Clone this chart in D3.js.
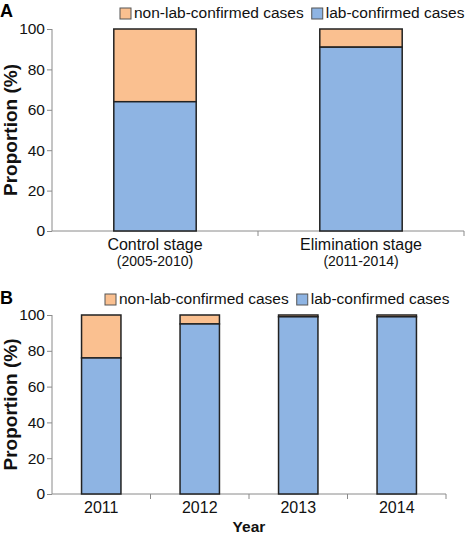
<!DOCTYPE html>
<html><head><meta charset="utf-8">
<script src="https://cdn.jsdelivr.net/npm/d3@7"></script>
<style>body{margin:0;background:#fff}svg{display:block}text{font-family:"Liberation Sans",Arial,sans-serif}</style>
</head><body><svg id="c" width="471" height="535"></svg>
<script>
const stagesA = ["Control stage", "Elimination stage"];
const stageYearsA = ["(2005-2010)", "(2011-2014)"];
const labA = [64, 91];
const nonLabA = [36, 9];
const yearsB = ["2011", "2012", "2013", "2014"];
const labB = [76, 95, 99, 99];
const nonLabB = [24, 5, 1, 1];
const yTicks = [0, 20, 40, 60, 80, 100];
const seriesNames = ["non-lab-confirmed cases", "lab-confirmed cases"];
const colors = {nonLab: "#FAC090", lab: "#8EB4E3"};

const svg = d3.select("#c");
const axisColor = "#8a8a8a";

function panel(opts) {
  const {cats, lab, nonLab, x0, x1, yTop, yBot, letter, letterY, legendY, legendX, legendGap, label2} = opts;
  const g = svg.append("g");
  const x = d3.scaleBand().domain(cats).range([x0, x1]).paddingInner(0.6).paddingOuter(0.3);
  const xb = d3.scaleBand().domain(cats).range([x0, x1]);
  const y = d3.scaleLinear().domain([0, 100]).range([yBot, yTop]);
  const ya = g.append("g").attr("transform", `translate(${x0},0)`)
    .call(d3.axisLeft(y).tickValues(yTicks).tickSize(5).tickPadding(2));
  ya.select(".domain").attr("stroke", axisColor).attr("d", `M-0,${yBot}V${yTop}`);
  ya.selectAll(".tick line").attr("stroke", axisColor);
  ya.selectAll(".tick text").attr("font-size", 15.5).attr("fill", "#111");
  const xa = g.append("g").attr("transform", `translate(0,${yBot})`)
    .call(d3.axisBottom(xb).tickSize(0).tickFormat(""));
  xa.select(".domain").attr("stroke", axisColor).attr("d", `M${x0},0H${x1}`);
  xa.selectAll(".tick").remove();
  const bounds = cats.map(c => xb(c)).concat([x1]).slice(1);
  g.selectAll("line.xt").data(bounds).join("line")
    .attr("x1", d => d).attr("x2", d => d).attr("y1", yBot).attr("y2", yBot + 5)
    .attr("stroke", axisColor);
  const bars = g.selectAll("g.bar").data(cats).join("g");
  bars.append("rect")
    .attr("x", d => x(d)).attr("width", x.bandwidth())
    .attr("y", (d, i) => y(lab[i] + nonLab[i])).attr("height", (d, i) => y(lab[i]) - y(lab[i] + nonLab[i]))
    .attr("fill", colors.nonLab).attr("stroke", "#222").attr("stroke-width", 1.5);
  bars.append("rect")
    .attr("x", d => x(d)).attr("width", x.bandwidth())
    .attr("y", (d, i) => y(lab[i])).attr("height", (d, i) => y(0) - y(lab[i]))
    .attr("fill", colors.lab).attr("stroke", "#222").attr("stroke-width", 1.5);
  g.selectAll("text.cat").data(cats).join("text")
    .attr("x", d => xb(d) + xb.bandwidth() / 2).attr("y", yBot + 19)
    .attr("text-anchor", "middle").attr("font-size", 16).attr("fill", "#111").text(d => d);
  if (label2) {
    g.selectAll("text.cat2").data(label2).join("text")
      .attr("x", (d, i) => xb(cats[i]) + xb.bandwidth() / 2).attr("y", yBot + 35)
      .attr("text-anchor", "middle").attr("font-size", 14).attr("fill", "#111").text(d => d);
  }
  g.append("text").attr("transform", `translate(17,${(yTop + yBot) / 2}) rotate(-90)`)
    .attr("text-anchor", "middle").attr("font-size", 19).attr("font-weight", "bold").attr("fill", "#111")
    .text("Proportion (%)");
  g.append("text").attr("x", 0).attr("y", letterY).attr("font-size", 18).attr("font-weight", "bold").text(letter);
  const items = [{n: seriesNames[0], c: colors.nonLab}, {n: seriesNames[1], c: colors.lab}];
  let lx = legendX;
  items.forEach((it) => {
    g.append("rect").attr("x", lx).attr("y", legendY - 10).attr("width", 11).attr("height", 11)
      .attr("fill", it.c).attr("stroke", "#555").attr("stroke-width", 1);
    const t = g.append("text").attr("x", lx + 14).attr("y", legendY).attr("font-size", 15.5).attr("fill", "#111").text(it.n);
    lx += 14 + t.node().getComputedTextLength() + legendGap;
  });
  return g;
}

panel({cats: stagesA, lab: labA, nonLab: nonLabA, x0: 52, x1: 464, yTop: 29, yBot: 231,
  letter: "A", letterY: 17, legendY: 18, legendX: 120, legendGap: 8, label2: stageYearsA});
panel({cats: yearsB, lab: labB, nonLab: nonLabB, x0: 52, x1: 446, yTop: 315, yBot: 494,
  letter: "B", letterY: 304, legendY: 304, legendX: 105, legendGap: 8});
svg.append("text").attr("x", 249).attr("y", 532).attr("text-anchor", "middle")
  .attr("font-size", 15.5).attr("font-weight", "bold").attr("fill", "#111").text("Year");
</script></body></html>
